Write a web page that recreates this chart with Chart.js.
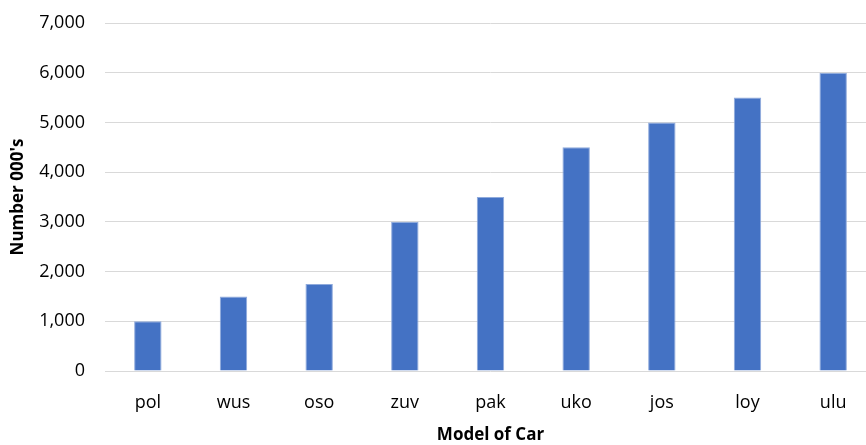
<!DOCTYPE html>
<html>
<head>
<meta charset="utf-8">
<script src="https://cdn.jsdelivr.net/npm/chart.js@4.4.0/dist/chart.umd.min.js"></script>
<style>
  html, body { margin: 0; padding: 0; background: #ffffff; overflow: hidden; }
  #wrap { width: 876px; height: 445px; position: relative; }
</style>
</head>
<body>
<div id="wrap"><canvas id="chart"></canvas></div>
<script>
// Car models and unit counts (thousands)
const categories = ['pol', 'wus', 'oso', 'zuv', 'pak', 'uko', 'jos', 'loy', 'ulu'];
const units = [1000, 1500, 1750, 3000, 3500, 4500, 5000, 5500, 6000];
const yTicks = [0, 1000, 2000, 3000, 4000, 5000, 6000, 7000];

const FONT = '"Open Sans", "Liberation Sans", sans-serif';

new Chart(document.getElementById('chart'), {
  type: 'bar',
  data: {
    labels: categories,
    datasets: [{
      data: units,
      backgroundColor: '#4472C4',
      borderColor: '#8FAADC',
      borderWidth: { top: 1, left: 1, right: 1, bottom: 0 },
      barPercentage: 0.32,
      categoryPercentage: 1.0
    }]
  },
  options: {
    responsive: true,
    maintainAspectRatio: false,
    animation: false,
    layout: { padding: { top: 23, right: 0, left: 0, bottom: 0 } },
    plugins: { legend: { display: false }, tooltip: { enabled: false } },
    scales: {
      x: {
        grid: { display: false, drawTicks: false },
        border: { display: false },
        ticks: { color: '#000000', font: { family: FONT, size: 18 }, padding: 21 },
        title: {
          display: true,
          text: 'Model of Car',
          color: '#000000',
          font: { family: FONT, size: 17, weight: 'bold' },
          padding: { top: 4, bottom: 0 }
        },
        afterFit: (s) => { s.height = 74; }
      },
      y: {
        min: 0,
        max: 7000,
        afterBuildTicks: (s) => { s.ticks = yTicks.map(v => ({ value: v })); },
        grid: { color: '#d9d9d9', lineWidth: 1, drawTicks: false },
        border: { display: false },
        ticks: {
          color: '#000000',
          font: { family: FONT, size: 18 },
          padding: 20,
          callback: (v) => v.toLocaleString('en-US')
        },
        title: {
          display: true,
          text: "Number 000's",
          color: '#000000',
          font: { family: FONT, size: 17, weight: 'bold' },
          padding: { top: 8, bottom: 0 }
        },
        afterFit: (s) => {
          s.width = 105;
          // plot edges come from the layout padding alone
          s.paddingTop = 0;
          s.paddingBottom = 0;
        }
      }
    }
  }
});
</script>
</body>
</html>
